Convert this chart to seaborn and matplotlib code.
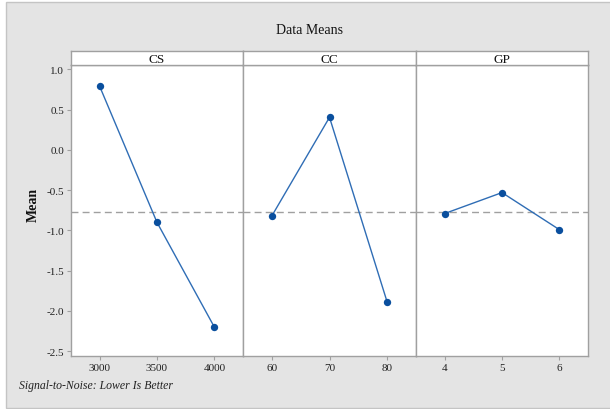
import numpy as np
import pandas as pd
import matplotlib
matplotlib.use('Agg')
import matplotlib.pyplot as plt
from matplotlib.patches import Rectangle
import seaborn as sns

# Main effects data (means)
factors = ['CS', 'CC', 'GP']
cs_levels = ['3000', '3500', '4000']
cs_means = [0.79, -0.90, -2.20]
cc_levels = ['60', '70', '80']
cc_means = [-0.82, 0.405, -1.89]
gp_levels = ['4', '5', '6']
gp_means = [-0.79, -0.53, -0.99]
y_ticks = [1.0, 0.5, 0.0, -0.5, -1.0, -1.5, -2.0, -2.5]

levels = {'CS': cs_levels, 'CC': cc_levels, 'GP': gp_levels}
means = {'CS': cs_means, 'CC': cc_means, 'GP': gp_means}

df = pd.concat([pd.DataFrame({'factor': f, 'level': levels[f], 'mean': means[f]})
                for f in factors], ignore_index=True)
grand_mean = df['mean'].mean()

sns.set_style('white')
plt.rcParams['font.family'] = ['Liberation Serif', 'DejaVu Serif']

W, H = 610, 410
fig = plt.figure(figsize=(W / 100, H / 100), dpi=100, facecolor='white')

# grey background panel with thin border
bg = Rectangle((6 / W, 1 / H), 1.2, (407 - 1) / H, transform=fig.transFigure,
               facecolor='#e4e4e4', edgecolor='#c4c4c4', linewidth=1, zorder=-10)
fig.patches.append(bg)

line_col = '#2f6db5'
mark_col = '#0a4f9e'
spine_col = '#a0a0a0'
edges = [71, 243, 416, 588]
top_px, bot_px, strip_top = 66, 357, 52

for i, f in enumerate(factors):
    x0, x1 = edges[i], edges[i + 1]
    ax = fig.add_axes([x0 / W, 1 - bot_px / H, (x1 - x0) / W, (bot_px - top_px) / H])
    sub = df[df['factor'] == f]
    sns.lineplot(data=sub, x='level', y='mean', ax=ax, color=line_col, lw=1.0, sort=False)
    sns.scatterplot(data=sub, x='level', y='mean', ax=ax, color=mark_col, s=28,
                    edgecolor=mark_col, linewidth=0, zorder=5)
    ax.axhline(grand_mean, color='#a0a0a0', lw=1, ls=(0, (5, 3)), zorder=1)
    ax.set_xlim(-0.5, 2.5)
    ax.set_ylim(-2.56, 1.055)
    ax.set_xlabel('')
    ax.set_ylabel('')
    ax.set_facecolor('white')
    for s in ax.spines.values():
        s.set_color(spine_col)
        s.set_linewidth(1)
    ax.tick_params(axis='x', length=3, width=0.8, color=spine_col, labelsize=8,
                   labelcolor='#222222', pad=2, bottom=True)
    if i == 0:
        ax.set_yticks(y_ticks)
        ax.set_yticklabels([f'{v:.1f}' for v in y_ticks])
        ax.tick_params(axis='y', length=3, width=0.8, color=spine_col, labelsize=8,
                       labelcolor='#222222', pad=2, left=True)
    else:
        ax.set_yticks(y_ticks)
        ax.tick_params(axis='y', left=False, labelleft=False)

    # strip header
    sax = fig.add_axes([x0 / W, 1 - top_px / H, (x1 - x0) / W, (top_px - strip_top) / H])
    sax.set_facecolor('white')
    sax.set_xticks([])
    sax.set_yticks([])
    for s in sax.spines.values():
        s.set_color(spine_col)
        s.set_linewidth(1)
    sax.text(0.5, 0.45, f, ha='center', va='center', fontsize=9.5, color='#111111',
             transform=sax.transAxes)

fig.text(310 / W, 1 - 30 / H, 'Data Means', ha='center', va='center', fontsize=10, color='#111111')
fig.text(33 / W, 1 - 205 / H, 'Mean', ha='center', va='center', rotation=90,
         fontsize=10, fontweight='bold', color='#111111')
fig.text(19 / W, 1 - 386 / H, 'Signal-to-Noise: Lower Is Better', ha='left', va='center',
         fontsize=8.5, style='italic', color='#222222')

fig.savefig('out.png', dpi=100, facecolor=fig.get_facecolor())
